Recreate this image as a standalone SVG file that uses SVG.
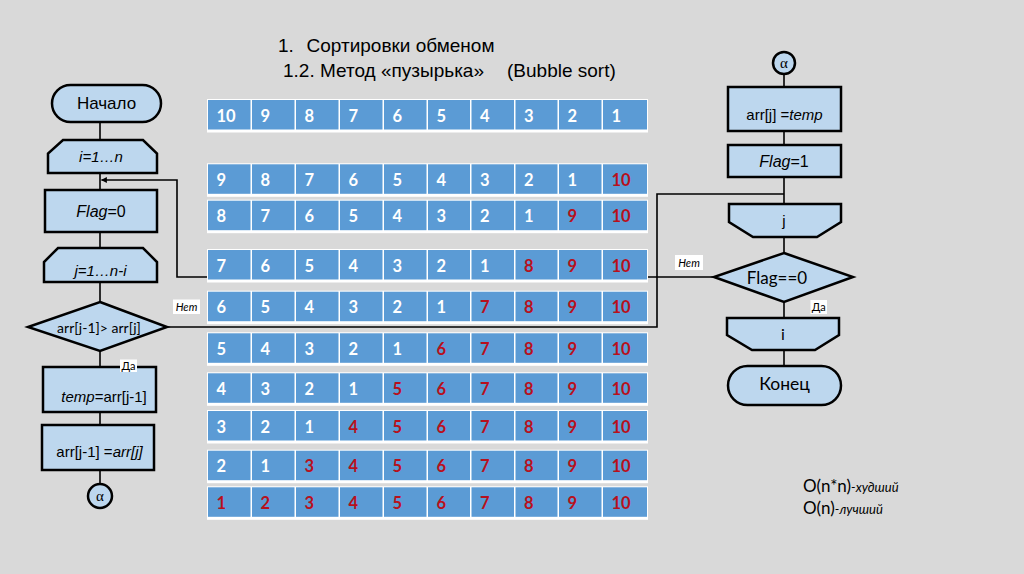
<svg xmlns="http://www.w3.org/2000/svg" xmlns:xlink="http://www.w3.org/1999/xlink" width="1024" height="574" viewBox="0 0 1024 574">
<style>
.shape{fill:#bdd7ee;stroke:#000;stroke-width:2.5;stroke-linejoin:miter}
.con{fill:none;stroke:#000;stroke-width:1.6}
.ar{font-family:"Liberation Sans",Arial,sans-serif;fill:#000}
.cal{font-family:Lato,"Open Sans",sans-serif;fill:#000}
.it{font-style:italic}
.num{font-family:Lato,"Open Sans",sans-serif;font-weight:bold;font-size:16.5px;fill:#fff}
.r{fill:#b8101c}
.cell{fill:#5b9bd5}
.lbl{fill:#fff}
.alpha{font-family:"Liberation Serif","Times New Roman",serif;font-size:15px;fill:#000}
</style>
<defs>
<marker id="arr" viewBox="0 0 10 10" refX="9" refY="5" markerWidth="6" markerHeight="6" orient="auto" markerUnits="userSpaceOnUse">
<path d="M0,0 L10,5 L0,10 z" fill="#000"/>
</marker>
<g id="rowbg">
<rect x="207" y="-1" width="441" height="33.5" fill="#fff"/>
<rect class="cell" x="208" y="0" width="42.5" height="29.5"/>
<rect class="cell" x="252" y="0" width="42.5" height="29.5"/>
<rect class="cell" x="296" y="0" width="42.5" height="29.5"/>
<rect class="cell" x="340" y="0" width="42.5" height="29.5"/>
<rect class="cell" x="384" y="0" width="42.5" height="29.5"/>
<rect class="cell" x="428" y="0" width="42" height="29.5"/>
<rect class="cell" x="471.5" y="0" width="42.5" height="29.5"/>
<rect class="cell" x="515.5" y="0" width="42" height="29.5"/>
<rect class="cell" x="559" y="0" width="42.5" height="29.5"/>
<rect class="cell" x="603" y="0" width="44" height="29.5"/>
</g>
</defs>
<rect x="0" y="0" width="1024" height="574" fill="#d9d9d9"/>

<g id="title" class="ar" font-size="19">
<text y="52"><tspan x="278">1.</tspan><tspan x="306.5">Сортировки обменом</tspan></text>
<text y="77"><tspan x="283">1.2. Метод «пузырька»</tspan><tspan x="507">(Bubble sort)</tspan></text>
</g>

<g id="connectors">
<line class="con" x1="100" y1="122" x2="100" y2="140"/>
<line class="con" x1="100" y1="173" x2="100" y2="190"/>
<line class="con" x1="100" y1="232" x2="100" y2="248"/>
<line class="con" x1="100" y1="282" x2="100" y2="302"/>
<line class="con" x1="100" y1="351" x2="100" y2="367"/>
<line class="con" x1="100" y1="412" x2="100" y2="425"/>
<line class="con" x1="100" y1="470" x2="100" y2="484"/>
<line class="con" x1="784" y1="74" x2="784" y2="87"/>
<line class="con" x1="784" y1="131" x2="784" y2="145"/>
<line class="con" x1="784" y1="177" x2="784" y2="204"/>
<line class="con" x1="784" y1="237" x2="784" y2="253"/>
<line class="con" x1="784" y1="302" x2="784" y2="318"/>
<line class="con" x1="784" y1="350" x2="784" y2="366"/>
<polyline class="con" points="167,327 657,327 657,194 784,194"/>
<polyline class="con" points="714,277 177,277 177,180 101.5,180" marker-end="url(#arr)"/>
</g>

<g id="table">
<use xlink:href="#rowbg" y="100"/>
<text class="num" y="121.5"><tspan x="216.5">10</tspan><tspan x="260.5">9</tspan><tspan x="304.5">8</tspan><tspan x="348.5">7</tspan><tspan x="392.5">6</tspan><tspan x="436.5">5</tspan><tspan x="480">4</tspan><tspan x="524">3</tspan><tspan x="567.5">2</tspan><tspan x="611.5">1</tspan></text>
<use xlink:href="#rowbg" y="164.3"/>
<text class="num" y="185.8"><tspan x="216.5">9</tspan><tspan x="260.5">8</tspan><tspan x="304.5">7</tspan><tspan x="348.5">6</tspan><tspan x="392.5">5</tspan><tspan x="436.5">4</tspan><tspan x="480">3</tspan><tspan x="524">2</tspan><tspan x="567.5">1</tspan><tspan class="r" x="611.5">10</tspan></text>
<use xlink:href="#rowbg" y="200.7"/>
<text class="num" y="222.2"><tspan x="216.5">8</tspan><tspan x="260.5">7</tspan><tspan x="304.5">6</tspan><tspan x="348.5">5</tspan><tspan x="392.5">4</tspan><tspan x="436.5">3</tspan><tspan x="480">2</tspan><tspan x="524">1</tspan><tspan class="r" x="567.5">9</tspan><tspan class="r" x="611.5">10</tspan></text>
<use xlink:href="#rowbg" y="250"/>
<text class="num" y="271.5"><tspan x="216.5">7</tspan><tspan x="260.5">6</tspan><tspan x="304.5">5</tspan><tspan x="348.5">4</tspan><tspan x="392.5">3</tspan><tspan x="436.5">2</tspan><tspan x="480">1</tspan><tspan class="r" x="524">8</tspan><tspan class="r" x="567.5">9</tspan><tspan class="r" x="611.5">10</tspan></text>
<use xlink:href="#rowbg" y="291.7"/>
<text class="num" y="313.2"><tspan x="216.5">6</tspan><tspan x="260.5">5</tspan><tspan x="304.5">4</tspan><tspan x="348.5">3</tspan><tspan x="392.5">2</tspan><tspan x="436.5">1</tspan><tspan class="r" x="480">7</tspan><tspan class="r" x="524">8</tspan><tspan class="r" x="567.5">9</tspan><tspan class="r" x="611.5">10</tspan></text>
<use xlink:href="#rowbg" y="333.3"/>
<text class="num" y="354.8"><tspan x="216.5">5</tspan><tspan x="260.5">4</tspan><tspan x="304.5">3</tspan><tspan x="348.5">2</tspan><tspan x="392.5">1</tspan><tspan class="r" x="436.5">6</tspan><tspan class="r" x="480">7</tspan><tspan class="r" x="524">8</tspan><tspan class="r" x="567.5">9</tspan><tspan class="r" x="611.5">10</tspan></text>
<use xlink:href="#rowbg" y="373.3"/>
<text class="num" y="394.8"><tspan x="216.5">4</tspan><tspan x="260.5">3</tspan><tspan x="304.5">2</tspan><tspan x="348.5">1</tspan><tspan class="r" x="392.5">5</tspan><tspan class="r" x="436.5">6</tspan><tspan class="r" x="480">7</tspan><tspan class="r" x="524">8</tspan><tspan class="r" x="567.5">9</tspan><tspan class="r" x="611.5">10</tspan></text>
<use xlink:href="#rowbg" y="411"/>
<text class="num" y="432.5"><tspan x="216.5">3</tspan><tspan x="260.5">2</tspan><tspan x="304.5">1</tspan><tspan class="r" x="348.5">4</tspan><tspan class="r" x="392.5">5</tspan><tspan class="r" x="436.5">6</tspan><tspan class="r" x="480">7</tspan><tspan class="r" x="524">8</tspan><tspan class="r" x="567.5">9</tspan><tspan class="r" x="611.5">10</tspan></text>
<use xlink:href="#rowbg" y="450.7"/>
<text class="num" y="472.2"><tspan x="216.5">2</tspan><tspan x="260.5">1</tspan><tspan class="r" x="304.5">3</tspan><tspan class="r" x="348.5">4</tspan><tspan class="r" x="392.5">5</tspan><tspan class="r" x="436.5">6</tspan><tspan class="r" x="480">7</tspan><tspan class="r" x="524">8</tspan><tspan class="r" x="567.5">9</tspan><tspan class="r" x="611.5">10</tspan></text>
<use xlink:href="#rowbg" y="487.3"/>
<text class="num r" y="508.8"><tspan x="216.5">1</tspan><tspan x="260.5">2</tspan><tspan x="304.5">3</tspan><tspan x="348.5">4</tspan><tspan x="392.5">5</tspan><tspan x="436.5">6</tspan><tspan x="480">7</tspan><tspan x="524">8</tspan><tspan x="567.5">9</tspan><tspan x="611.5">10</tspan></text>
</g>

<g id="start">
<rect class="shape" x="52" y="85" width="109" height="37" rx="18.5"/>
<text class="ar" x="106.5" y="109" font-size="17" text-anchor="middle">Начало</text>
</g>
<g id="loop-i">
<polygon class="shape" points="63,140 143,140 157,153.5 157,173 48,173 48,153.5"/>
<text class="ar it" x="101" y="162" font-size="15" text-anchor="middle">i=1…n</text>
</g>
<g id="flag0">
<rect class="shape" x="45" y="190" width="112" height="42"/>
<text class="ar" x="101" y="217" font-size="16" text-anchor="middle"><tspan class="it">Flag</tspan>=0</text>
</g>
<g id="loop-j">
<polygon class="shape" points="58,248 143,248 157,262 157,282 44,282 44,262"/>
<text class="ar it" x="100.5" y="275.5" font-size="15" text-anchor="middle">j=1…n-i</text>
</g>
<g id="cond">
<polygon class="shape" points="100,302 167,327 100,351 28,327"/>
<text class="cal" x="99" y="333" font-size="14" text-anchor="middle">arr[j-1]&gt; arr[j]</text>
</g>
<g id="temp">
<rect class="shape" x="43" y="367" width="113" height="45"/>
<text class="ar" x="104" y="402" font-size="15" text-anchor="middle"><tspan class="it">temp</tspan>=arr[j-1]</text>
</g>
<g id="swap">
<rect class="shape" x="42" y="425" width="112" height="45"/>
<text class="ar" x="99.5" y="457" font-size="15" text-anchor="middle">arr[j-1] =<tspan class="it">arr[j]</tspan></text>
</g>
<g id="alpha-out">
<circle class="shape" cx="100" cy="496" r="12" stroke-width="1.5"/>
<text class="alpha" x="100" y="500.5" text-anchor="middle">α</text>
</g>

<g id="alpha-in">
<circle class="shape" cx="784" cy="63" r="11" stroke-width="1.5"/>
<text class="alpha" x="784" y="67.5" text-anchor="middle">α</text>
</g>
<g id="assign">
<rect class="shape" x="728" y="87" width="113" height="44"/>
<text class="ar" x="784.5" y="120" font-size="15" text-anchor="middle">arr[j] =<tspan class="it">temp</tspan></text>
</g>
<g id="flag1">
<rect class="shape" x="728" y="145" width="113" height="32"/>
<text class="ar" x="784" y="167" font-size="16" text-anchor="middle"><tspan class="it">Flag</tspan>=1</text>
</g>
<g id="end-j">
<polygon class="shape" points="729,204 841,204 841,222 817,237 753,237 729,222"/>
<text class="ar" x="784" y="226" font-size="15" text-anchor="middle">j</text>
</g>
<g id="cond-flag">
<polygon class="shape" points="784,253 853,277 784,302 714,277"/>
<text class="cal" x="777" y="283.5" font-size="17" text-anchor="middle">Flag==0</text>
</g>
<g id="end-i">
<polygon class="shape" points="727,318 839,318 839,335 815,350 752,350 727,335"/>
<text class="cal" x="783" y="340" font-size="16" text-anchor="middle">i</text>
</g>
<g id="end">
<rect class="shape" x="728" y="366" width="113" height="39" rx="19.5"/>
<text class="cal" x="784.5" y="390" font-size="17.5" text-anchor="middle">Конец</text>
</g>

<g id="labels">
<rect class="lbl" x="173" y="299.5" width="27" height="14.5"/>
<text class="cal it" x="186.5" y="311" font-size="11" text-anchor="middle">Нет</text>
<rect class="lbl" x="120" y="359.5" width="17" height="12.5"/>
<text class="cal" x="128.5" y="370" font-size="11" text-anchor="middle">Да</text>
<rect class="lbl" x="675" y="255" width="28" height="15"/>
<text class="cal it" x="689" y="266.5" font-size="11" text-anchor="middle">Нет</text>
<rect class="lbl" x="810.5" y="300" width="16.5" height="14"/>
<text class="cal" x="818.7" y="311" font-size="11" text-anchor="middle">Да</text>
</g>

<g id="complexity" class="cal">
<text x="803" y="492" font-size="17">O(n*n)<tspan class="it" font-size="13">-худший</tspan></text>
<text x="803" y="514" font-size="17">O(n)<tspan class="it" font-size="13">-лучший</tspan></text>
</g>
</svg>
